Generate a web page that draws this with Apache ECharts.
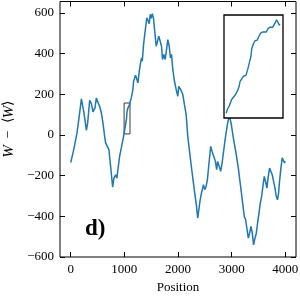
<!DOCTYPE html>
<html><head><meta charset="utf-8">
<script src="https://cdn.jsdelivr.net/npm/echarts@6/dist/echarts.min.js"></script>
<style>html,body{margin:0;padding:0;background:#fff}#c{width:300px;height:300px}</style>
</head><body><div id="c"></div>
<script>
const positions = [0,56,117,167,199,214,242,292,316,353,385,415,452,478,508,539,571,601,632,651,675,712,744,768,781,805,837,861,880,911,943,973,
999,1002,1005,1009,1013,1016,1020,1023,1025,1029,1032,1036,1039,1042,1045,1047,1050,1053,1057,1061,1064,1068,1071,1074,1077,1081,1086,1090,1093,1095,1098,1099,
1129,1159,1172,1190,1209,1228,1252,1270,1296,1321,1334,1358,1395,1419,1445,1464,1482,1501,1520,1544,1562,1594,1618,1642,1668,1693,1711,1735,1761,1791,1810,1836,1860,1879,1903,1934,1966,1996,
2014,2040,2065,2089,2120,2152,2182,2226,2264,2306,2338,2368,2399,2424,2450,2474,2498,2524,2548,2572,2610,2636,2673,2697,2721,2740,2771,2796,2822,2846,2870,2896,2926,2957,2989,
3037,3082,3101,3125,3143,3175,3205,3236,3261,3283,3311,3335,3361,3385,3409,3435,3460,3484,3510,3534,3559,3584,3608,3632,3657,3683,3707,3733,3757,3782,3808,3832,3856,3875,3893,3919,3943,3968,3987,3999];
const values = [-136,-72,10,110,177,170,116,23,60,170,154,113,133,182,160,141,108,59,-7,-39,-31,-72,-155,-220,-256,-212,-196,-212,-171,-105,-64,-23,
12,19,23,32,36,39,45,51,59,64,67,68,76,86,95,108,115,119,120,127,131,132,130,132,137,139,139,145,150,147,142,144,
182,223,264,262,294,290,256,297,346,379,363,445,527,576,568,547,593,573,596,573,519,436,461,486,478,436,371,396,371,429,469,436,379,396,322,264,223,190,
239,248,215,199,149,100,-7,-105,-187,-275,-335,-409,-345,-302,-294,-245,-269,-253,-220,-155,-56,-81,-72,-130,-171,-130,-138,-179,-138,-89,-39,10,59,95,59,
-23,-89,-122,-163,-204,-269,-335,-401,-417,-410,-507,-483,-450,-483,-540,-507,-483,-433,-384,-335,-302,-294,-204,-228,-261,-204,-163,-163,-196,-228,-261,-302,-319,-286,-228,-163,-113,-105,-138,-130];
const xTicks = [0,1000,2000,3000,4000];
const yTicks = [-600,-400,-200,0,200,400,600];
const xRange = [-200,4200];
const yRange = [-600,656];
const zoomX = [995,1105];
const zoomY = [5,157];
const panelLabel = 'd)';
const xName = 'Position';

const mainData = positions.map((p,i)=>[p,values[i]]);
const insetData = mainData.filter(d=>d[0]>=zoomX[0] && d[0]<=zoomX[1]);
const fmt = v => v<0 ? '\u2212'+Math.abs(v) : String(v);
const F = 'Liberation Serif';
const BLUE = '#1f77b4';

const chart = echarts.init(document.getElementById('c'), null, {renderer:'canvas'});
const tickStyle = {show:true, inside:true, length:5, lineStyle:{color:'#000', width:1}};
const noLine = {show:false, onZero:false};
chart.setOption({
  animation:false,
  backgroundColor:'#fff',
  title:{text:panelLabel, left:80, top:213, textStyle:{fontFamily:F, fontWeight:'bold', fontSize:23, color:'#000'}},
  grid:[
    {left:60, right:4, top:1.5, bottom:43, show:true, borderColor:'#000', borderWidth:1, backgroundColor:'transparent', outerBoundsMode:'none', containLabel:false},
    {left:224, top:15, width:59, height:103, show:true, borderColor:'#000', borderWidth:1.3, backgroundColor:'#fff', z:10, outerBoundsMode:'none', containLabel:false}
  ],
  xAxis:[
    {type:'value', gridIndex:0, min:xRange[0], max:xRange[1], position:'bottom',
     axisLine:noLine, splitLine:{show:false},
     axisTick:Object.assign({customValues:xTicks}, tickStyle),
     axisLabel:{customValues:xTicks, formatter:fmt, fontFamily:F, fontSize:13, color:'#000', margin:6},
     name:xName, nameLocation:'middle', nameGap:24, nameTextStyle:{fontFamily:F, fontSize:13, color:'#000'}},
    {type:'value', gridIndex:0, min:xRange[0], max:xRange[1], position:'top',
     axisLine:noLine, splitLine:{show:false},
     axisTick:Object.assign({customValues:xTicks}, tickStyle),
     axisLabel:{show:false, customValues:xTicks}},
    {type:'value', gridIndex:1, min:zoomX[0], max:zoomX[1], show:false}
  ],
  yAxis:[
    {type:'value', gridIndex:0, min:yRange[0], max:yRange[1], position:'left',
     axisLine:noLine, splitLine:{show:false},
     axisTick:Object.assign({customValues:yTicks}, tickStyle),
     axisLabel:{customValues:yTicks, formatter:fmt, fontFamily:F, fontSize:13, color:'#000', margin:6},
     name:'{i|W}  \u2212  \u27e8{i|W}\u27e9', nameLocation:'middle', nameGap:42,
     nameTextStyle:{fontFamily:F, fontSize:14, color:'#000', rich:{i:{fontFamily:F, fontStyle:'italic', fontSize:15, color:'#000'}}}},
    {type:'value', gridIndex:0, min:yRange[0], max:yRange[1], position:'right',
     axisLine:noLine, splitLine:{show:false},
     axisTick:Object.assign({customValues:yTicks}, tickStyle),
     axisLabel:{show:false, customValues:yTicks}},
    {type:'value', gridIndex:1, min:zoomY[0], max:zoomY[1], show:false}
  ],
  series:[
    {type:'line', xAxisIndex:0, yAxisIndex:0, data:mainData, showSymbol:false, z:2,
     lineStyle:{color:BLUE, width:1.5}, silent:true,
     markArea:{silent:true, itemStyle:{color:'rgba(0,0,0,0)', borderColor:'#222', borderWidth:0.9},
       data:[[{coord:[zoomX[0],zoomY[0]]},{coord:[zoomX[1],zoomY[1]]}]]}},
    {type:'line', xAxisIndex:2, yAxisIndex:2, data:insetData, showSymbol:false, z:20,
     lineStyle:{color:BLUE, width:1.4}, silent:true}
  ]
});
</script></body></html>
